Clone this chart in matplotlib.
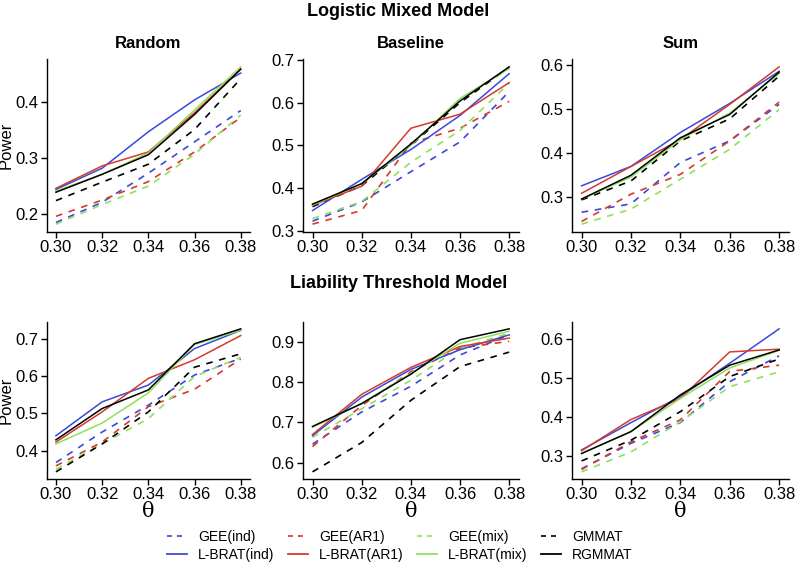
import matplotlib
matplotlib.use("Agg")
import matplotlib.pyplot as plt
from matplotlib.lines import Line2D

theta = [0.30, 0.32, 0.34, 0.36, 0.38]
methods = ["GEE(ind)", "GEE(AR1)", "GEE(mix)", "GMMAT",
           "L-BRAT(ind)", "L-BRAT(AR1)", "L-BRAT(mix)", "RGMMAT"]

# Logistic Mixed Model
lmm_random = {
    "GEE(ind)":    [0.184, 0.220, 0.272, 0.328, 0.384],
    "GEE(AR1)":    [0.195, 0.224, 0.257, 0.310, 0.372],
    "GEE(mix)":    [0.181, 0.216, 0.249, 0.306, 0.376],
    "GMMAT":       [0.223, 0.256, 0.288, 0.350, 0.441],
    "L-BRAT(ind)": [0.243, 0.281, 0.346, 0.403, 0.451],
    "L-BRAT(AR1)": [0.245, 0.285, 0.310, 0.380, 0.458],
    "L-BRAT(mix)": [0.240, 0.270, 0.308, 0.385, 0.462],
    "RGMMAT":      [0.238, 0.270, 0.305, 0.377, 0.458],
}
lmm_baseline = {
    "GEE(ind)":    [0.322, 0.367, 0.438, 0.508, 0.626],
    "GEE(AR1)":    [0.315, 0.347, 0.505, 0.540, 0.603],
    "GEE(mix)":    [0.328, 0.368, 0.460, 0.535, 0.646],
    "GMMAT":       [0.356, 0.405, 0.500, 0.600, 0.683],
    "L-BRAT(ind)": [0.347, 0.420, 0.490, 0.570, 0.668],
    "L-BRAT(AR1)": [0.359, 0.404, 0.540, 0.573, 0.647],
    "L-BRAT(mix)": [0.360, 0.410, 0.500, 0.610, 0.680],
    "RGMMAT":      [0.362, 0.410, 0.503, 0.604, 0.684],
}
lmm_sum = {
    "GEE(ind)":    [0.265, 0.284, 0.378, 0.427, 0.510],
    "GEE(AR1)":    [0.244, 0.306, 0.351, 0.427, 0.515],
    "GEE(mix)":    [0.238, 0.272, 0.340, 0.408, 0.498],
    "GMMAT":       [0.293, 0.336, 0.427, 0.477, 0.574],
    "L-BRAT(ind)": [0.325, 0.369, 0.446, 0.512, 0.585],
    "L-BRAT(AR1)": [0.308, 0.369, 0.430, 0.510, 0.595],
    "L-BRAT(mix)": [0.295, 0.345, 0.430, 0.490, 0.580],
    "RGMMAT":      [0.295, 0.349, 0.434, 0.487, 0.583],
}
# Liability Threshold Model
ltm_random = {
    "GEE(ind)":    [0.368, 0.450, 0.522, 0.603, 0.648],
    "GEE(AR1)":    [0.359, 0.423, 0.518, 0.565, 0.646],
    "GEE(mix)":    [0.350, 0.418, 0.486, 0.599, 0.651],
    "GMMAT":       [0.343, 0.418, 0.504, 0.624, 0.660],
    "L-BRAT(ind)": [0.440, 0.531, 0.576, 0.674, 0.723],
    "L-BRAT(AR1)": [0.423, 0.504, 0.594, 0.644, 0.709],
    "L-BRAT(mix)": [0.418, 0.474, 0.555, 0.685, 0.723],
    "RGMMAT":      [0.429, 0.513, 0.563, 0.687, 0.727],
}
ltm_baseline = {
    "GEE(ind)":    [0.646, 0.726, 0.790, 0.868, 0.918],
    "GEE(AR1)":    [0.640, 0.742, 0.826, 0.885, 0.902],
    "GEE(mix)":    [0.663, 0.734, 0.805, 0.885, 0.922],
    "GMMAT":       [0.577, 0.650, 0.755, 0.839, 0.875],
    "L-BRAT(ind)": [0.667, 0.763, 0.832, 0.881, 0.918],
    "L-BRAT(AR1)": [0.670, 0.770, 0.837, 0.889, 0.910],
    "L-BRAT(mix)": [0.688, 0.747, 0.822, 0.897, 0.927],
    "RGMMAT":      [0.690, 0.747, 0.820, 0.906, 0.933],
}
ltm_sum = {
    "GEE(ind)":    [0.268, 0.333, 0.386, 0.491, 0.557],
    "GEE(AR1)":    [0.266, 0.337, 0.393, 0.517, 0.533],
    "GEE(mix)":    [0.260, 0.311, 0.388, 0.478, 0.516],
    "GMMAT":       [0.288, 0.341, 0.414, 0.504, 0.549],
    "L-BRAT(ind)": [0.316, 0.386, 0.453, 0.538, 0.626],
    "L-BRAT(AR1)": [0.314, 0.394, 0.448, 0.567, 0.574],
    "L-BRAT(mix)": [0.307, 0.363, 0.448, 0.526, 0.571],
    "RGMMAT":      [0.307, 0.363, 0.457, 0.533, 0.572],
}

panel_titles = ["Random", "Baseline", "Sum"]
row_titles = ["Logistic Mixed Model", "Liability Threshold Model"]
yticks = [
    [[0.2, 0.3, 0.4], [0.3, 0.4, 0.5, 0.6, 0.7], [0.3, 0.4, 0.5, 0.6]],
    [[0.4, 0.5, 0.6, 0.7], [0.6, 0.7, 0.8, 0.9], [0.3, 0.4, 0.5, 0.6]],
]
data = [[lmm_random, lmm_baseline, lmm_sum], [ltm_random, ltm_baseline, ltm_sum]]

colors = {"ind": "#3a48dc", "AR1": "#d43a2a", "mix": "#8fe05c", "GMM": "#000000"}
def style(m):
    dashed = m.startswith("GEE") or m == "GMMAT"
    if "ind" in m:
        c = colors["ind"]
    elif "AR1" in m:
        c = colors["AR1"]
    elif "mix" in m:
        c = colors["mix"]
    else:
        c = colors["GMM"]
    return c, dashed

plt.rcParams["font.family"] = ["Liberation Sans", "DejaVu Sans"]

W, H = 797, 566
fig = plt.figure(figsize=(W / 100, H / 100), dpi=100)

lefts = [46.7, 302.7, 571.7]
rights = [250, 519, 789]
tops = [59, 321.7]
bottoms = [232, 479]

for r in range(2):
    for c in range(3):
        l, rr, t, b = lefts[c], rights[c], tops[r], bottoms[r]
        ax = fig.add_axes([l / W, 1 - b / H, (rr - l) / W, (b - t) / H])
        for m in methods:
            col, dashed = style(m)
            if dashed:
                ax.plot(theta, data[r][c][m], color=col, lw=1.2,
                        dashes=(4, 4))
            else:
                ax.plot(theta, data[r][c][m], color=col, lw=1.1)
        ax.margins(0.05)
        ax.set_xticks(theta)
        ax.set_xticklabels([f"{v:.2f}" for v in theta])
        ax.set_yticks(yticks[r][c])
        ax.set_yticklabels([f"{v:.1f}" for v in yticks[r][c]])
        for s in ["top", "right"]:
            ax.spines[s].set_visible(False)
        for s in ["left", "bottom"]:
            ax.spines[s].set_linewidth(1.0)
        ax.tick_params(labelsize=12, length=4, width=1.0, pad=2, colors="black")
        if c == 0:
            ax.set_ylabel("Power", fontsize=12, labelpad=1)
        if r == 1:
            ax.set_xlabel("θ", fontsize=15, family=["DejaVu Serif"], labelpad=0)
        if r == 0:
            ax.set_title(panel_titles[c], fontsize=12, fontweight="bold", pad=8)

fig.text(0.5, 1 - 11 / H, row_titles[0], ha="center", va="center",
         fontsize=13, fontweight="bold")
fig.text(0.5, 1 - 283 / H, row_titles[1], ha="center", va="center",
         fontsize=13, fontweight="bold")

order = ["GEE(ind)", "L-BRAT(ind)", "GEE(AR1)", "L-BRAT(AR1)",
         "GEE(mix)", "L-BRAT(mix)", "GMMAT", "RGMMAT"]
handles = []
for m in order:
    col, dashed = style(m)
    if dashed:
        handles.append(Line2D([], [], color=col, lw=1.2, dashes=(3, 3)))
    else:
        handles.append(Line2D([], [], color=col, lw=1.3))
fig.legend(handles, order, loc="center", bbox_to_anchor=(400 / W, 1 - 546 / H),
           ncol=4, frameon=False, fontsize=10, handlelength=1.4,
           columnspacing=1.0, handletextpad=0.8, labelspacing=0.25)

fig.savefig("out.png", dpi=100)
